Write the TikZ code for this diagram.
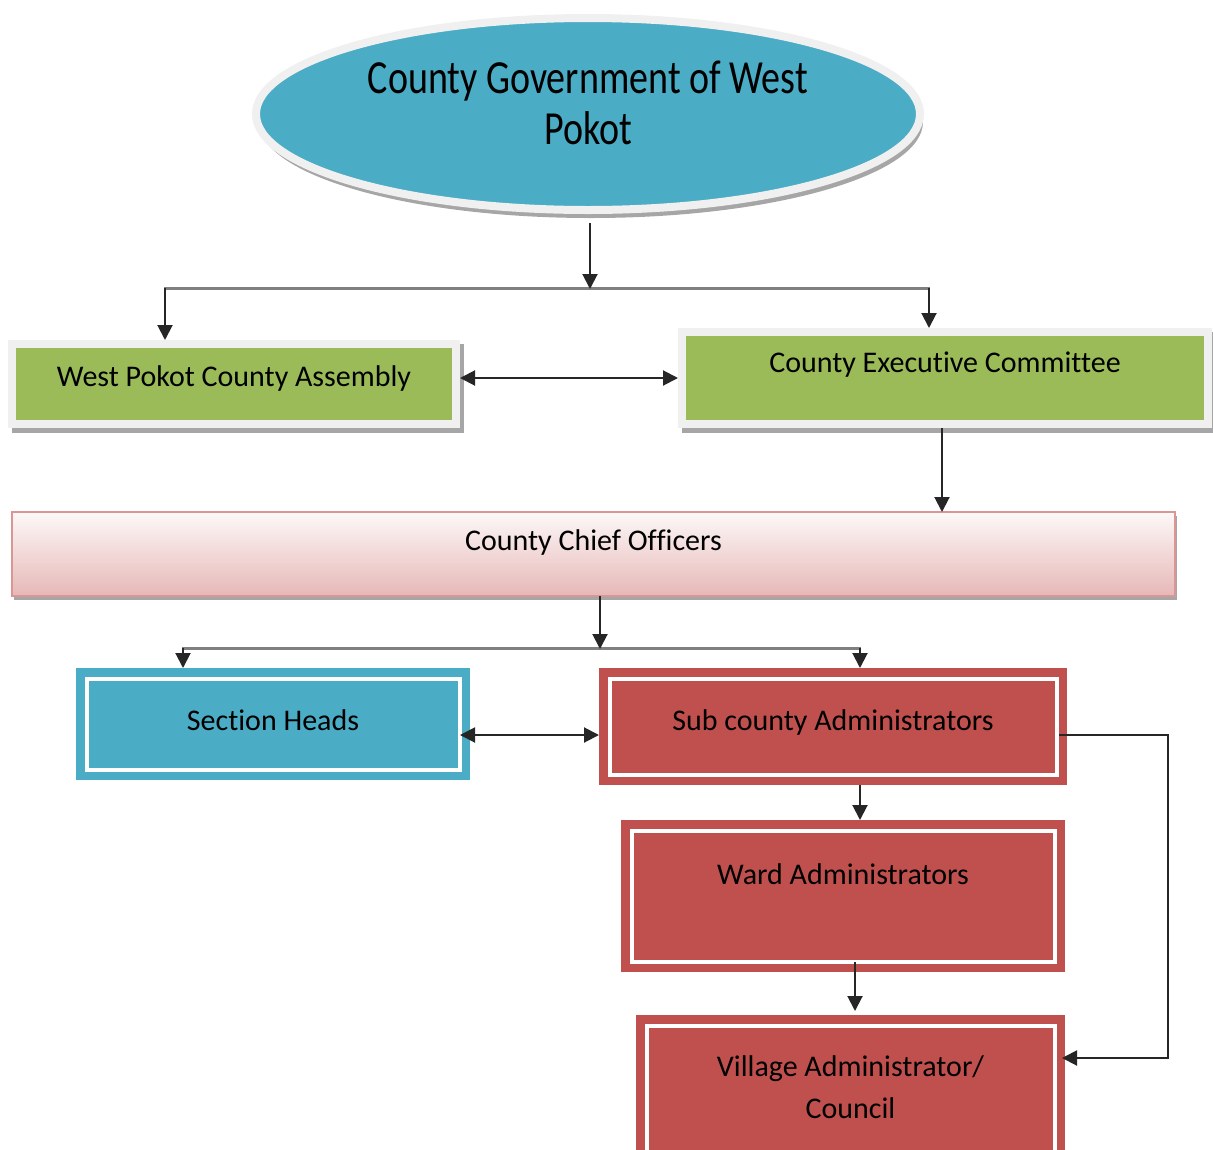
\documentclass[tikz,border=0pt]{standalone}
\usepackage{fontspec}
\setmainfont{Carlito}[Ligatures=NoCommon]
\usetikzlibrary{arrows.meta,shapes.geometric,backgrounds,shadows,calc}

\definecolor{accblue}{HTML}{4BACC6}
\definecolor{accgreen}{HTML}{9BBB59}
\definecolor{accred}{HTML}{C0504D}
\definecolor{rimgray}{HTML}{F0F0F0}
\definecolor{shadegray}{HTML}{A6A6A6}
\definecolor{busgray}{HTML}{808080}
\definecolor{chieftop}{HTML}{FDF8F8}
\definecolor{chiefbottom}{HTML}{E6B8B7}
\definecolor{chiefline}{HTML}{D99694}

\begin{document}
\begin{tikzpicture}[x=1pt,y=-1pt,
  every node/.style={inner sep=0pt, outer sep=0pt},
  lbl/.style={font=\fontsize{30}{42}\selectfont, text height=21pt},
  greenbox/.style={rectangle, fill=accgreen, lbl, outer sep=8pt},
  framebox/.style={rectangle, fill=#1, lbl,
    path picture={\draw[white, line width=4pt]
      ([shift={(10.5pt,-10.5pt)}]path picture bounding box.north west) rectangle
      ([shift={(-10.5pt,10.5pt)}]path picture bounding box.south east);}},
  link/.style={draw=black!85, line width=2pt},
  bus/.style={draw=busgray, line width=3pt},
  tip/.style={-{Triangle[length=15pt,width=15pt]}},
  twotips/.style={{Triangle[length=15pt,width=15pt]}-{Triangle[length=15pt,width=15pt]}},
]
\useasboundingbox (0,0) rectangle (1213,1149);
\clip (0,0) rectangle (1213,1149);

% top: county government ellipse
\node[ellipse, fill=accblue, draw=rimgray, line width=8pt,
      minimum width=664pt, minimum height=192pt,
      drop shadow={shadow xshift=3pt, shadow yshift=-8pt, fill=shadegray, opacity=1}]
  (gov) at (588,114) {};
\node[font=\fontsize{38}{51}\selectfont, align=center] (govtitle) at (588,103)
  {\scalebox{1}[1.25]{County Government of West}\\\scalebox{1}[1.25]{Pokot}};

% second level: assembly and executive
\node[greenbox, minimum width=436pt, minimum height=72pt, text depth=17pt]
  (asm) at (234,384) {West Pokot County Assembly};
\node[greenbox, minimum width=518pt, minimum height=84pt, text depth=33pt]
  (exe) at (945,378) {County Executive Committee};

% rims and shadows behind the green boxes
\begin{scope}[on background layer]
  \foreach \b in {asm,exe}{
    \fill[shadegray] ($(\b.north west)+(4,4)$) rectangle ($(\b.south east)+(4,5)$);
    \fill[rimgray] (\b.north west) rectangle (\b.south east);
  }
\end{scope}

% chief officers band
\node[rectangle, lbl, minimum width=1163pt, minimum height=84pt, text depth=29pt,
      top color=chieftop, bottom color=chiefbottom, draw=chiefline, line width=1.2pt,
      drop shadow={shadow xshift=2pt, shadow yshift=-4pt, fill=shadegray, opacity=1}]
  (chief) at (593.5,554) {County Chief Officers};

% lower levels
\node[framebox=accblue, minimum width=394pt, minimum height=112pt, text depth=9pt]
  (sec) at (273,724) {Section Heads};
\node[framebox=accred, minimum width=468pt, minimum height=117pt, text depth=14pt]
  (sub) at (833,726.5) {Sub county Administrators};
\node[framebox=accred, minimum width=444pt, minimum height=152pt, text depth=45pt]
  (ward) at (843,896) {Ward Administrators};
\node[framebox=accred, minimum width=429pt, minimum height=186pt, align=center,
      font=\fontsize{30}{42}\selectfont]
  (vil) at (850.5,1108) {Village Administrator/\\Council};

% connector junctions
\coordinate (bus1) at (590,288);
\coordinate (busL) at (165,288);
\coordinate (busR) at (929,288);
\coordinate (h1) at (0,378);
\coordinate (bus2) at (600,648);
\coordinate (busL2) at (183,648);
\coordinate (busR2) at (860,648);
\coordinate (h2) at (0,735);
\coordinate (corner) at (1168,1058);

% connectors
\draw[bus] ([xshift=-1pt]busL) -- ([xshift=1pt]busR);
\draw[bus] ([xshift=-1pt]busL2) -- ([xshift=1pt]busR2);
\draw[link,tip] ($(gov.south)+(2,13)$) -- ($(bus1)+(0,1)$);
\draw[link,tip] (busL) -- (busL |- asm.north);
\draw[link,tip] (busR) -- (busR |- exe.north);
\draw[link,twotips] (asm.east |- h1) -- (exe.west |- h1);
\draw[link,tip] ($(exe.south)+(-3,0)$) -- ($(exe.south |- chief.north)+(-3,0)$);
\draw[link,tip] (chief.south -| bus2) -- ($(bus2)+(0,1)$);
\draw[link,tip] (busL2) -- (busL2 |- sec.north);
\draw[link,tip] (busR2) -- (busR2 |- sub.north);
\draw[link,twotips] ($(sec.east |- h2)+(-10,0)$) -- (sub.west |- h2);
\draw[link,tip] (sub.south -| busR2) -- (busR2 |- ward.north);
\draw[link,tip] ($(ward.south -| 855,0)+(0,-10)$) -- ($(855,0 |- vil.north)+(0,-4)$);
\draw[link,tip] ($(sub.east |- h2)+(-8,0)$) -| (corner) -- ($(vil.east |- corner)+(-3,0)$);
\end{tikzpicture}
\end{document}
